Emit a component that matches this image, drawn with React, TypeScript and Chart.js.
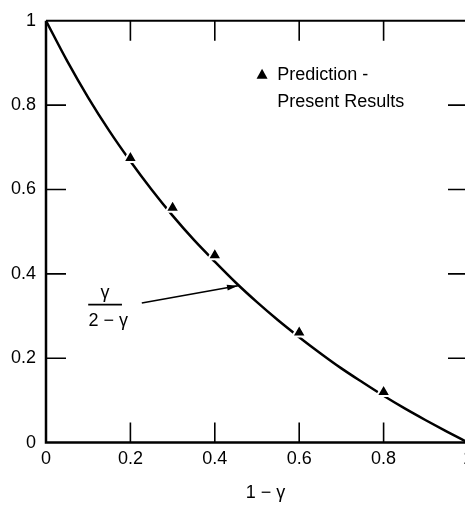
import React, { useEffect, useRef } from "react";
import { Chart, registerables } from "chart.js";

Chart.register(...registerables);

// Curve γ/(2−γ) plotted against 1−γ
const curveX = [0, 0.05, 0.1, 0.15, 0.2, 0.25, 0.3, 0.35, 0.4, 0.45, 0.5, 0.55, 0.6, 0.65, 0.7, 0.75, 0.8, 0.85, 0.9, 0.95, 1];
const curveY = [1, 0.905, 0.818, 0.739, 0.667, 0.6, 0.538, 0.481, 0.429, 0.379, 0.333, 0.29, 0.25, 0.212, 0.176, 0.143, 0.111, 0.081, 0.053, 0.026, 0];

// Predictions – present results (triangles)
const predX = [0.2, 0.3, 0.4, 0.6, 0.8];
const predY = [0.675, 0.557, 0.444, 0.261, 0.12];

const tickValues = [0, 0.2, 0.4, 0.6, 0.8, 1];
const xTickLabels = ["0", "0.2", "0.4", "0.6", "0.8", "1"];
const yTickLabels = ["0", "0.2", "0.4", "0.6", "0.8", "1"];
const innerTicks = [0.2, 0.4, 0.6, 0.8];

const xTitle = "1 − γ";
const legendLines = ["Prediction -", "Present Results"];
const fracTop = "γ";
const fracBottom = "2 − γ";

const FONT = "'Liberation Sans', Arial, sans-serif";

const decorPlugin = {
  id: "decor",
  afterDraw(chart: any) {
    const ctx = chart.ctx;
    const xs = chart.scales.x;
    const ys = chart.scales.y;
    const { left, right, top, bottom } = chart.chartArea;
    ctx.save();
    ctx.strokeStyle = "#000";
    ctx.fillStyle = "#000";
    ctx.lineCap = "butt";

    // frame: left, bottom, top
    ctx.lineWidth = 2.5;
    ctx.beginPath();
    ctx.moveTo(left, top);
    ctx.lineTo(left, bottom);
    ctx.lineTo(right, bottom);
    ctx.stroke();
    ctx.lineWidth = 2;
    ctx.beginPath();
    ctx.moveTo(left, top);
    ctx.lineTo(right, top);
    ctx.stroke();

    // inner tick marks
    ctx.lineWidth = 1.6;
    const L = 20;
    innerTicks.forEach((v) => {
      const px = xs.getPixelForValue(v);
      const py = ys.getPixelForValue(v);
      ctx.beginPath();
      ctx.moveTo(px, bottom);
      ctx.lineTo(px, bottom - L);
      ctx.moveTo(px, top);
      ctx.lineTo(px, top + L);
      ctx.moveTo(left, py);
      ctx.lineTo(left + L, py);
      ctx.moveTo(right, py);
      ctx.lineTo(right - L, py);
      ctx.stroke();
    });

    // x title
    ctx.font = `18px ${FONT}`;
    ctx.textAlign = "center";
    ctx.textBaseline = "middle";
    ctx.fillText(xTitle, xs.getPixelForValue(0.52), 493);

    // legend
    const lx = xs.getPixelForValue(0.512);
    const ly = ys.getPixelForValue(0.873);
    ctx.beginPath();
    ctx.moveTo(lx, ly - 5.5);
    ctx.lineTo(lx + 5.5, ly + 4.5);
    ctx.lineTo(lx - 5.5, ly + 4.5);
    ctx.closePath();
    ctx.fill();
    ctx.textAlign = "left";
    ctx.fillText(legendLines[0], xs.getPixelForValue(0.548), ys.getPixelForValue(0.871));
    ctx.fillText(legendLines[1], xs.getPixelForValue(0.548), ys.getPixelForValue(0.807));

    // fraction label
    const fx = xs.getPixelForValue(0.143);
    ctx.textAlign = "center";
    ctx.fillText(fracTop, xs.getPixelForValue(0.14), ys.getPixelForValue(0.355));
    ctx.lineWidth = 1.6;
    ctx.beginPath();
    ctx.moveTo(xs.getPixelForValue(0.1), ys.getPixelForValue(0.327));
    ctx.lineTo(xs.getPixelForValue(0.18), ys.getPixelForValue(0.327));
    ctx.stroke();
    ctx.fillText(fracBottom, fx + 2, ys.getPixelForValue(0.289));

    // arrow
    const ax0 = xs.getPixelForValue(0.227);
    const ay0 = ys.getPixelForValue(0.331);
    const ax1 = xs.getPixelForValue(0.455);
    const ay1 = ys.getPixelForValue(0.372);
    ctx.lineWidth = 1.6;
    ctx.beginPath();
    ctx.moveTo(ax0, ay0);
    ctx.lineTo(ax1, ay1);
    ctx.stroke();
    const ang = Math.atan2(ay1 - ay0, ax1 - ax0);
    const hl = 11;
    const hw = 3;
    ctx.beginPath();
    ctx.moveTo(ax1, ay1);
    ctx.lineTo(ax1 - hl * Math.cos(ang) + hw * Math.sin(ang), ay1 - hl * Math.sin(ang) - hw * Math.cos(ang));
    ctx.lineTo(ax1 - hl * Math.cos(ang) - hw * Math.sin(ang), ay1 - hl * Math.sin(ang) + hw * Math.cos(ang));
    ctx.closePath();
    ctx.fill();

    ctx.restore();
  },
};

export default function App() {
  const ref = useRef<HTMLCanvasElement | null>(null);

  useEffect(() => {
    document.body.style.margin = "0";
    document.body.style.overflow = "hidden";
    const canvas = ref.current;
    if (!canvas) return;
    const chart = new Chart(canvas, {
      type: "scatter",
      data: {
        datasets: [
          {
            label: "Prediction",
            data: predX.map((x, i) => ({ x, y: predY[i] })),
            pointStyle: "triangle",
            pointRadius: 8,
            pointBackgroundColor: "#000",
            pointBorderColor: "#fff",
            pointBorderWidth: 2,
            showLine: false,
            order: 0,
          },
          {
            label: "γ/(2−γ)",
            data: curveX.map((x, i) => ({ x, y: curveY[i] })),
            showLine: true,
            borderColor: "#000",
            borderWidth: 2.5,
            pointRadius: 0,
            cubicInterpolationMode: "monotone",
            order: 1,
          },
        ],
      },
      options: {
        animation: false,
        responsive: false,
        devicePixelRatio: 1,
        layout: { padding: { top: 18, right: 12, left: 0, bottom: 0 } },
        plugins: { legend: { display: false }, tooltip: { enabled: false } },
        scales: {
          x: {
            type: "linear",
            min: 0,
            max: 1,
            grid: { display: false, drawTicks: false },
            border: { display: false },
            afterBuildTicks: (s: any) => {
              s.ticks = tickValues.map((v) => ({ value: v }));
            },
            afterFit: (s: any) => {
              s.height = 62.4;
            },
            ticks: {
              padding: 6,
              maxRotation: 0,
              autoSkip: false,
              color: "#000",
              font: { family: FONT, size: 18 },
              callback: (_v: any, i: number) => xTickLabels[i],
            },
          },
          y: {
            type: "linear",
            min: 0,
            max: 1,
            grid: { display: false, drawTicks: false },
            border: { display: false },
            afterBuildTicks: (s: any) => {
              s.ticks = tickValues.map((v) => ({ value: v }));
            },
            afterFit: (s: any) => {
              s.width = 46;
            },
            ticks: {
              padding: 10,
              autoSkip: false,
              color: "#000",
              font: { family: FONT, size: 18 },
              callback: (_v: any, i: number) => yTickLabels[i],
            },
          },
        },
      },
      plugins: [decorPlugin],
    } as any);
    return () => chart.destroy();
  }, []);

  return (
    <div style={{ width: 465, height: 505, overflow: "hidden", position: "relative", background: "#fff" }}>
      <canvas ref={ref} width={480} height={505} style={{ display: "block", width: 480, height: 505 }} />
    </div>
  );
}
